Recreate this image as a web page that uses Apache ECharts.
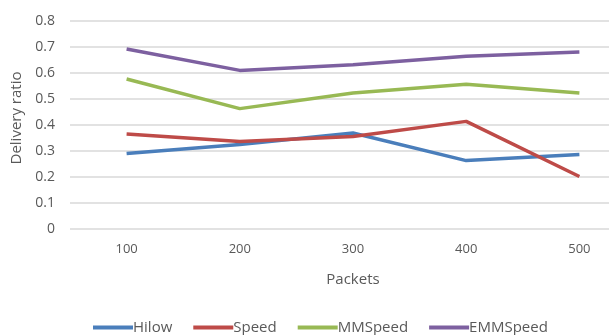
<!DOCTYPE html>
<html>
<head>
<meta charset="utf-8">
<script src="https://cdn.jsdelivr.net/npm/echarts@6/dist/echarts.min.js"></script>
<style>
  html, body { margin: 0; padding: 0; background: #fff; }
  #chart { width: 609px; height: 335px; }
</style>
</head>
<body>
<div id="chart"></div>
<script>
// Delivery ratio per number of packets for four routing protocols
const packets = ['100', '200', '300', '400', '500'];
const hilow = [0.29, 0.325, 0.369, 0.263, 0.287];
const speed = [0.365, 0.337, 0.356, 0.414, 0.202];
const mmspeed = [0.577, 0.463, 0.523, 0.557, 0.523];
const emmspeed = [0.692, 0.61, 0.632, 0.664, 0.681];

const font = '"Open Sans", "Liberation Sans", sans-serif';
const gray = '#595959';

function lineSeries(name, data, color) {
  return {
    name: name,
    type: 'line',
    data: data,
    symbol: 'none',
    lineStyle: { width: 3.5, color: color },
    itemStyle: { color: color }
  };
}

const chart = echarts.init(document.getElementById('chart'), null, { renderer: 'canvas' });
chart.setOption({
  animation: false,
  textStyle: { fontFamily: font },
  // plot area runs past the right edge of the canvas
  grid: { left: 70, top: 21, height: 208, width: 566, containLabel: false, outerBoundsMode: 'none' },
  xAxis: {
    type: 'category',
    data: packets,
    boundaryGap: true,
    name: 'Packets',
    nameLocation: 'middle',
    nameGap: 43,
    nameTextStyle: { color: gray, fontSize: 15, fontFamily: font },
    axisLine: { show: false },
    axisTick: { show: false },
    axisLabel: { color: gray, fontSize: 13, margin: 14, fontFamily: font }
  },
  yAxis: {
    type: 'value',
    min: 0,
    max: 0.8,
    interval: 0.1,
    name: 'Delivery ratio',
    nameLocation: 'middle',
    nameGap: 45,
    nameTextStyle: { color: gray, fontSize: 15, fontFamily: font, padding: [0, 0, 0, 14] },
    axisLine: { show: false },
    axisTick: { show: false },
    axisLabel: { color: gray, fontSize: 14, margin: 15, fontFamily: font,
      formatter: v => (v === 0 ? '0' : v.toFixed(1)) },
    splitLine: { lineStyle: { color: '#d9d9d9', width: 1.5 } }
  },
  legend: {
    left: 88,
    top: 315,
    icon: 'rect',
    itemWidth: 40,
    itemHeight: 4,
    itemGap: 21,
    textStyle: { color: gray, fontSize: 15, fontFamily: font, padding: [0, 0, 0, -5] },
    data: ['Hilow', 'Speed', 'MMSpeed', 'EMMSpeed']
  },
  series: [
    lineSeries('Hilow', hilow, '#4a7ebb'),
    lineSeries('Speed', speed, '#be4b48'),
    lineSeries('MMSpeed', mmspeed, '#98b954'),
    lineSeries('EMMSpeed', emmspeed, '#7d60a0')
  ]
});
</script>
</body>
</html>
